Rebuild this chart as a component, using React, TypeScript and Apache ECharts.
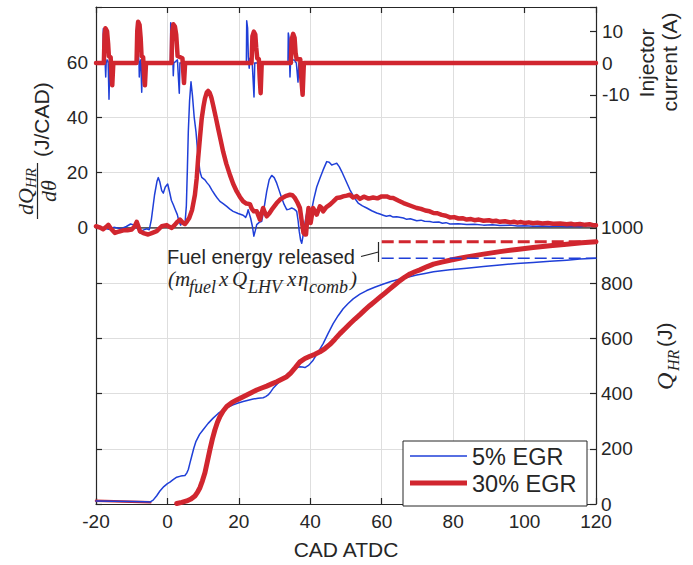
import React, { useEffect, useRef } from 'react';
import * as echarts from 'echarts';

// ---------------- data ----------------
const xTicks = [-20, 0, 20, 40, 60, 80, 100, 120];
const hrrLabels = [0, 20, 40, 60];
const qLabels = [0, 200, 400, 600, 800, 1000];
const injLabels = [-10, 0, 10];

const blueHRR: number[][] = [
  [-20, 0.3], [-18, 0.0], [-16.5, -0.5], [-15, 0.2], [-13, -0.3], [-11.5, 0.5], [-10.3, 1.4], [-9.3, 1.0],
  [-8.2, -0.5], [-7.7, -1.8], [-6.8, -0.8], [-5.8, -0.3], [-5.1, -0.7], [-4.5, 3], [-3.6, 12], [-2.9, 17],
  [-2.55, 18.2], [-2.1, 16.5], [-1.6, 13.5], [-1.15, 12.6], [-0.6, 14.8], [0.07, 15.9], [0.6, 13], [1.1, 10],
  [1.65, 8.4], [2.2, 6.6], [2.77, 4.8], [3.2, 2.5], [3.7, 1.0], [4.1, 2.2], [4.5, 1.8], [4.9, 1.2], [5.3, 8],
  [5.6, 22], [5.85, 35], [6.2, 46], [6.6, 52.9], [7.0, 48], [7.5, 40], [8.0, 34.8], [8.5, 27], [9.1, 20.4],
  [9.6, 18.3], [10.5, 17.4], [11.1, 16.3], [11.7, 15.4], [12.5, 13.6], [13.3, 12.0], [14.0, 10.7], [14.7, 9.6],
  [15.6, 8.8], [16.6, 7.8], [17.5, 6.8], [18.4, 6.0], [19.8, 5.2], [21.2, 4.6], [21.9, 3.8], [22.3, 5.0],
  [22.6, 6.6], [23.0, 4.8], [23.3, 3.5], [23.8, 0.5], [24.2, -3.0], [24.6, -1.0], [25.0, 1.2], [25.7, 2.0],
  [26.4, 2.4], [27.1, 7.5], [27.8, 13.2], [28.5, 17.5], [29.2, 19.0], [29.9, 18.2], [30.6, 16.2], [31.3, 13.5],
  [32.0, 10.8], [32.7, 8.4], [33.4, 6.6], [34.1, 6.8], [34.8, 7.2], [35.5, 6.8], [36.2, 6.0], [36.6, 2.5],
  [36.9, -1.2], [37.3, -4.5], [37.6, -5.6], [37.95, -3], [38.3, 0], [38.8, 4], [39.2, 6.6], [39.8, 6.8],
  [40.4, 6.6], [41.0, 10.5], [41.8, 14.8], [42.7, 18.0], [43.6, 21.0], [44.6, 24.0], [45.3, 23.8], [46.0, 22.8],
  [46.7, 23.1], [47.4, 23.4], [48.1, 22.2], [48.8, 20.4], [50.0, 17.0], [51.1, 13.8], [52.2, 11.2], [53.4, 9.0],
  [54.6, 8.0], [55.8, 7.2], [57.2, 6.2], [58.6, 5.4], [59.5, 5.0], [60.4, 4.6], [61.3, 4.2], [62.3, 4.5],
  [63.2, 3.9], [64.2, 4.0], [66.1, 3.6], [67.0, 3.1], [68.0, 3.3], [69.8, 2.6], [71.0, 2.8], [72.0, 2.4],
  [73.5, 2.3], [74.5, 2.0], [76.0, 2.1], [77.0, 1.7], [78.0, 1.9], [79.1, 1.4], [81.5, 1.5], [83.8, 1.2],
  [86.0, 1.3], [88.5, 1.0], [91.0, 1.1], [93.1, 0.9], [96.0, 1.0], [98.0, 0.7], [100.0, 0.8], [102.4, 0.6],
  [105.0, 0.7], [107.0, 0.5], [109.0, 0.7], [111.8, 0.4], [114.0, 0.6], [115.5, 0.4], [117.4, 0.9], [120.0, 0.8],
];

const redHRR: number[][] = [
  [-20, 0.6], [-19, 0.2], [-18, -0.5], [-17.2, 0.3], [-16.55, 1.1], [-15.8, -0.3], [-14.7, -1.8], [-13.5, -1.3],
  [-12.35, -0.9], [-11.2, -0.9], [-10.0, -0.6], [-9.2, 0.5], [-8.6, 2.2], [-8.1, 0.4], [-7.7, -1.2], [-6.5, -2.0],
  [-5.4, -2.4], [-4.2, -1.8], [-3.0, -1.2], [-1.6, 0.6], [-0.2, 1.0], [0.5, 0.4], [1.2, 0.0], [2.0, 1.0],
  [2.8, 2.2], [3.5, 3.0], [4.2, 2.0], [4.9, 1.4], [5.5, 2.4], [6.1, 3.6], [6.9, 6.5], [7.7, 12.0], [8.2, 18],
  [8.6, 25.2], [9.1, 32.5], [9.6, 39.6], [10.1, 44], [10.5, 46.8], [11.0, 49], [11.4, 49.6], [11.8, 49],
  [12.3, 47.2], [12.8, 44.4], [13.5, 40.3], [14.2, 36.0], [14.9, 31.8], [15.6, 27.6], [16.5, 23.2], [17.5, 19.2],
  [18.4, 16.0], [19.4, 13.2], [20.3, 11.2], [21.2, 9.6], [22.1, 8.8], [23.1, 8.6], [23.6, 7.0], [24.2, 6.0],
  [25.0, 6.0], [25.5, 4.3], [25.9, 3.0], [26.4, 5.5], [26.8, 7.2], [27.3, 5.5], [27.8, 4.2], [28.5, 5.2],
  [29.2, 6.6], [29.9, 7.8], [30.6, 9.0], [31.5, 10.2], [32.4, 11.0], [33.3, 11.6], [34.3, 12.0], [35.0, 11.8],
  [35.7, 10.8], [36.4, 9.2], [37.1, 7.2], [37.6, 2.5], [38.1, -1.8], [38.5, -2.4], [38.8, -2.4], [39.1, 2.5],
  [39.5, 7.2], [39.8, 4.0], [40.1, 1.8], [40.5, 5.0], [40.8, 7.2], [41.3, 6.0], [41.8, 4.8], [42.3, 6.5],
  [42.7, 7.8], [43.2, 7.2], [43.6, 6.0], [44.5, 7.5], [45.5, 8.4], [46.4, 9.5], [47.4, 10.8], [48.3, 11.0],
  [49.2, 11.4], [50.2, 11.7], [51.1, 12.0], [52.0, 11.0], [53.0, 11.5], [53.9, 10.5], [55.0, 11.3], [56.3, 10.6],
  [57.6, 11.0], [58.8, 10.7], [60.0, 11.4], [61.4, 11.4], [62.3, 10.9], [63.2, 10.8], [64.6, 9.9], [66.1, 9.0],
  [67.9, 8.1], [69.8, 7.2], [71.0, 6.9], [72.2, 6.3], [73.4, 6.0], [74.5, 5.4], [75.6, 5.3], [76.8, 4.7],
  [78.0, 4.4], [79.1, 3.8], [80.3, 3.9], [81.5, 3.4], [82.6, 3.5], [83.8, 3.0], [85.0, 3.2], [86.0, 2.8],
  [87.2, 3.0], [88.5, 2.6], [90.0, 2.8], [91.0, 2.4], [92.0, 2.6], [93.1, 2.2], [94.5, 2.4], [96.0, 2.0],
  [97.0, 2.2], [98.0, 1.9], [99.0, 2.1], [100.0, 1.8], [101.2, 2.0], [102.4, 1.7], [103.6, 1.9], [105, 1.6],
  [106.5, 1.8], [108, 1.5], [110, 1.6], [111.8, 1.3], [113, 1.5], [114, 1.2], [115.5, 1.4], [117, 1.1],
  [118.2, 1.3], [119.2, 1.0], [120, 1.0],
];

const blueQ: number[][] = [
  [-20, 11], [-15, 10], [-10, 9], [-6, 8], [-4.9, 7], [-4.0, 14], [-3.0, 30], [-2.1, 47], [-1.0, 63], [0.0, 74],
  [0.7, 79], [1.6, 88], [2.6, 97], [3.7, 101], [4.9, 103], [5.4, 112], [5.85, 125], [6.3, 148], [6.8, 173],
  [7.4, 203], [8.0, 227], [9.0, 252], [10.0, 269], [11.4, 292], [12.8, 311], [14.2, 328], [15.6, 341],
  [17.0, 351], [18.4, 359], [19.8, 366], [21.2, 371], [22.6, 376], [24.0, 380], [25.4, 383], [26.8, 385],
  [27.5, 389], [28.2, 395], [28.9, 406], [29.6, 419], [31.0, 438], [32.4, 455], [33.7, 472], [35.0, 485],
  [36.0, 493], [37.1, 497], [37.8, 496], [38.5, 494], [39.6, 503], [40.8, 521], [42.2, 550], [43.6, 581],
  [45.0, 618], [46.4, 653], [47.8, 682], [49.2, 707], [50.6, 726], [52.0, 743], [53.9, 760], [55.8, 773],
  [58.2, 786], [60.5, 797], [62.8, 807], [65.1, 815], [67.5, 822], [69.8, 829], [72.1, 835], [74.5, 841],
  [76.8, 845], [79.1, 848], [81.4, 851], [83.8, 854], [88.5, 860], [93.1, 866], [97.8, 871], [102.4, 875],
  [107.1, 879], [111.8, 883], [115.5, 887], [120, 890],
];

const redQEarly: number[][] = [
  [-20, 12], [-15, 10], [-10, 8], [-4.8, 6],
];

const redQ: number[][] = [
  [2.6, 2], [4.0, 6], [5.4, 11], [6.6, 18], [7.7, 29], [8.4, 42], [9.1, 59], [9.8, 84], [10.5, 113], [11.2, 155],
  [11.9, 197], [12.6, 236], [13.3, 269], [14.0, 296], [14.7, 317], [15.6, 337], [16.6, 353], [18.0, 367],
  [19.4, 377], [20.8, 386], [22.2, 395], [23.6, 404], [25.0, 413], [26.4, 420], [27.8, 427], [29.2, 435],
  [30.6, 443], [32.0, 452], [33.4, 461], [34.5, 474], [35.8, 494], [37.1, 515], [38.5, 527], [39.9, 535],
  [41.3, 542], [42.7, 551], [44.1, 563], [45.5, 578], [46.9, 597], [48.3, 617], [49.7, 635], [51.1, 653],
  [52.5, 670], [53.9, 686], [55.3, 703], [56.7, 719], [58.1, 734], [59.5, 749], [60.9, 764], [62.3, 779],
  [63.7, 794], [65.1, 809], [66.5, 822], [67.9, 833], [69.3, 841], [70.7, 848], [72.6, 859], [74.5, 869],
  [76.8, 876], [79.1, 883], [81.5, 889], [83.8, 895], [88.5, 905], [93.1, 914], [97.8, 922], [102.4, 929],
  [107.1, 935], [111.8, 941], [116, 946], [120, 950],
];

const blueFuelEnergy: number[][] = [[60, 890], [120, 890]];
const redFuelEnergy: number[][] = [[60, 950], [120, 950]];
const hrrZero: number[][] = [[-20, 0], [120, 0]];

const blueInj: number[][] = [
  [-20, 0], [-18.05, 0], [-17.96, 10.8], [-17.75, 10.2], [-17.6, 4], [-17.45, 0.5], [-17.28, -4.4], [-17.15, 0],
  [-16.9, 1], [-16.6, 0.5], [-16.36, -11.4], [-16.15, 0],
  [-8.7, 0], [-8.6, 13], [-8.35, 12], [-8.15, 3], [-7.95, 0], [-7.88, -4.4], [-7.7, 0], [-7.45, 1], [-7.2, -9.2], [-7.0, 0],
  [0.85, 0], [0.92, 12.7], [1.2, 11.5], [1.4, 3], [1.55, 0], [1.64, -4], [1.8, 0], [2.8, 1], [3.32, -9.5], [3.5, 0],
  [22.1, 0], [22.2, 13.3], [22.45, 11], [22.65, 2], [22.9, -1.6], [23.1, 1.5], [23.7, 1], [24.24, -10.7], [24.45, 0],
  [33.75, 0], [33.84, 9.5], [34.05, 8], [34.2, 1], [34.32, -4.4], [34.5, 1], [35.5, 1], [36.1, 0], [36.56, -6], [36.8, 0],
  [120, 0],
];

const redInj: number[][] = [
  [-20, 0], [-17.8, 0], [-17.6, 9], [-17.35, 11], [-16.9, 10], [-16.6, 6], [-16.4, 2.2], [-15.9, 1.8], [-15.65, -4], [-15.45, -7], [-15.15, 0],
  [-8.65, 0], [-8.45, 10], [-8.2, 13], [-7.8, 12], [-7.5, 8], [-7.25, 2.2], [-6.8, 1.8], [-6.55, -4], [-6.3, -7], [-6.0, 0],
  [1.15, 0], [1.35, 10], [1.65, 12.2], [2.1, 11.5], [2.45, 9], [2.85, 2.2], [4.2, 1.5], [4.45, -3], [4.64, -6.3], [4.95, 0],
  [23.55, 0], [23.8, 8.5], [24.2, 9.9], [24.6, 9], [24.85, 5], [25.15, 1.5], [25.6, 1.2], [25.85, -5], [26.1, -9.5], [26.4, 0],
  [34.55, 0], [34.8, 7.5], [35.2, 9.2], [35.6, 8], [35.9, 3], [36.2, 1.2], [37.2, 1.2], [37.5, -5], [37.85, -10], [38.2, 0],
  [120, 0],
];

// ---------------- styling ----------------
const BLUE = '#1f3fd8';
const RED = '#d1262f';
const INK = '#262626';
const GRID = '#dedede';
const SANS = "'Liberation Sans', Arial, Helvetica, sans-serif";
const SERIF = "'Liberation Serif', 'Times New Roman', serif";

const line = (data: number[][], yAxisIndex: number, color: string, width: number, extra: any = {}) => ({
  type: 'line',
  data,
  yAxisIndex,
  xAxisIndex: 0,
  showSymbol: false,
  symbol: 'none',
  silent: true,
  lineStyle: { color, width, cap: 'round', join: 'round', ...(extra.lineStyle || {}) },
  z: extra.z ?? 2,
});

const txt = (text: string, x: number, y: number, fontSize: number, family: string, italic = false, align = 'left', extra: any = {}) => ({
  type: 'text',
  x,
  y,
  z: 100,
  ...extra,
  style: {
    text,
    fontSize,
    fontFamily: family,
    fontStyle: italic ? 'italic' : 'normal',
    fill: INK,
    align,
    verticalAlign: 'middle',
  },
});

const plain = (v: number) => String(v);

export default function App() {
  const ref = useRef<HTMLDivElement>(null);

  useEffect(() => {
    const chart = echarts.init(ref.current!, null, { renderer: 'svg' });
    const axisLine = { show: true, onZero: false, lineStyle: { color: INK, width: 1.2 } };
    const tick = { show: true, inside: true, length: 6, lineStyle: { color: INK, width: 1.2 } };
    const labelStyle = { fontSize: 19, color: INK, fontFamily: SANS, formatter: plain };

    const option: any = {
      animation: false,
      backgroundColor: '#fff',
      grid: { left: 96, right: 97, top: 7, bottom: 57, containLabel: false },
      xAxis: [
        {
          type: 'value', min: -20, max: 120, interval: 20, position: 'bottom',
          axisLine, axisTick: tick,
          axisLabel: { ...labelStyle, margin: 10, lineHeight: 14, showMinLabel: true, showMaxLabel: true, customValues: xTicks },
          splitLine: { show: true, lineStyle: { color: GRID, width: 1 } },
          name: 'CAD ATDC', nameLocation: 'middle', nameGap: 35,
          nameTextStyle: { fontSize: 21, color: INK, fontFamily: SANS },
        },
        {
          type: 'value', min: -20, max: 120, interval: 20, position: 'top',
          axisLine, axisTick: tick, axisLabel: { show: false }, splitLine: { show: false },
        },
      ],
      yAxis: [
        {
          type: 'value', min: -100, max: 80, interval: 20, position: 'left',
          axisLine, axisTick: tick,
          axisLabel: { ...labelStyle, margin: 8, customValues: hrrLabels },
          splitLine: { show: true, lineStyle: { color: GRID, width: 1 } },
        },
        {
          type: 'value', min: 0, max: 1800, interval: 200, position: 'right',
          axisLine, axisTick: tick,
          axisLabel: { ...labelStyle, margin: 5, lineHeight: 12, padding: [0, 0, 4, 0], customValues: qLabels },
          splitLine: { show: false },
        },
        {
          type: 'value', min: -138.9, max: 17.66, position: 'right',
          axisLine: { show: false, onZero: false },
          axisTick: { ...tick, customValues: injLabels },
          axisLabel: { ...labelStyle, margin: 6, customValues: injLabels },
          splitLine: { show: false },
        },
      ],
      series: [
        line(hrrZero, 0, INK, 1.2, { z: 1 }),
        line(blueInj, 2, BLUE, 1.5),
        line(redInj, 2, RED, 4.5),
        line(blueHRR, 0, BLUE, 1.5),
        line(redHRR, 0, RED, 4.5),
        line(redQEarly, 1, RED, 2.5),
        line(blueQ, 1, BLUE, 1.5),
        line(redQ, 1, RED, 5),
        line(blueFuelEnergy, 1, BLUE, 1.4, { lineStyle: { type: [12, 5], cap: 'butt' } }),
        line(redFuelEnergy, 1, RED, 3, { lineStyle: { type: [12, 5], cap: 'butt' } }),
      ],
      graphic: [
        // left axis title: dQ_HR / dθ (J/CAD)
        {
          type: 'group', x: 37.5, y: 219, rotation: Math.PI / 2, z: 100,
          children: [
            { type: 'line', shape: { x1: 0, y1: 0, x2: 56, y2: 0 }, style: { stroke: INK, lineWidth: 1.2 } },
            txt('dQ', 4, -12.5, 22, SERIF, true),
            txt('HR', 31, -6.5, 15, SERIF, true),
            txt('dθ', 28, 10.5, 22, SERIF, true, 'center'),
            txt('(J/CAD)', 62, 4, 21, SANS),
          ],
        },
        // right titles
        txt('Injector', 646, 63, 21, SANS, false, 'center', { rotation: Math.PI / 2 }),
        txt('current (A)', 669, 62, 21, SANS, false, 'center', { rotation: Math.PI / 2 }),
        {
          type: 'group', x: 666, y: 391, rotation: Math.PI / 2, z: 100,
          children: [
            txt('Q', 1, -1, 24, SERIF, true),
            txt('HR', 20, 7, 16, SERIF, true),
            txt('(J)', 44, -2, 21, SANS),
          ],
        },
        // fuel energy annotation
        txt('Fuel energy released', 167, 257, 20, SANS),
        txt('(m', 168, 279, 21, SERIF, true),
        txt('fuel', 189, 287, 18, SERIF, true),
        txt('x', 219, 279, 21, SERIF, true),
        txt('Q', 232, 279, 21, SERIF, true),
        txt('LHV', 248, 287, 18, SERIF, true),
        txt('x', 287, 279, 21, SERIF, true),
        txt('η', 298, 279, 21, SERIF, true),
        txt('comb', 309, 287, 18, SERIF, true),
        txt(')', 350, 279, 21, SERIF, true),
        { type: 'line', z: 100, shape: { x1: 361, y1: 256.5, x2: 378.5, y2: 252 }, style: { stroke: INK, lineWidth: 1.2 } },
        { type: 'line', z: 100, shape: { x1: 378.5, y1: 242, x2: 378.5, y2: 262 }, style: { stroke: INK, lineWidth: 1.2 } },
        // legend
        { type: 'rect', z: 100, shape: { x: 403, y: 441, width: 184, height: 65 }, style: { fill: '#fff', stroke: INK, lineWidth: 1 } },
        { type: 'line', z: 101, shape: { x1: 410, y1: 456, x2: 467, y2: 456 }, style: { stroke: BLUE, lineWidth: 1.5 } },
        { type: 'line', z: 101, shape: { x1: 410, y1: 483, x2: 467, y2: 483 }, style: { stroke: RED, lineWidth: 5 } },
        txt('5% EGR', 472, 456.5, 23.5, SANS, false, 'left', { z: 101 }),
        txt('30% EGR', 472, 484, 23.5, SANS, false, 'left', { z: 101 }),
      ],
    };
    chart.setOption(option);
    return () => chart.dispose();
  }, []);

  return (
    <div
      ref={ref}
      style={{ position: 'fixed', left: 0, top: 0, width: 693, height: 565, background: '#fff' }}
    />
  );
}
